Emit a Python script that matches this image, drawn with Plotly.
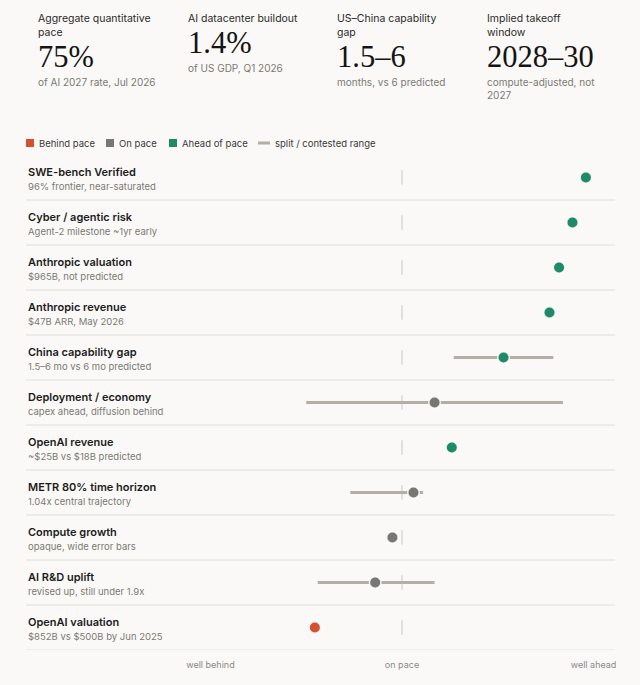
import plotly.graph_objects as go

# --- data ---
metrics = ["SWE-bench Verified", "Cyber / agentic risk", "Anthropic valuation",
           "Anthropic revenue", "China capability gap", "Deployment / economy",
           "OpenAI revenue", "METR 80% time horizon", "Compute growth",
           "AI R&D uplift", "OpenAI valuation"]
notes = ["96% frontier, near-saturated", "Agent-2 milestone ~1yr early",
         "$965B, not predicted", "$47B ARR, May 2026", "1.5–6 mo vs 6 mo predicted",
         "capex ahead, diffusion behind", "~$25B vs $18B predicted",
         "1.04x central trajectory", "opaque, wide error bars",
         "revised up, still under 1.9x", "$852B vs $500B by Jun 2025"]
pace = [0.96, 0.89, 0.82, 0.77, 0.53, 0.17, 0.26, 0.06, -0.05, -0.14, -0.455]
range_lo = [None, None, None, None, 0.27, -0.50, None, -0.27, None, -0.44, None]
range_hi = [None, None, None, None, 0.79, 0.84, None, 0.11, None, 0.17, None]
status = ["ahead", "ahead", "ahead", "ahead", "ahead", "on",
          "ahead", "on", "on", "on", "behind"]

axis_vals = [-1, 0, 1]
axis_text = ["well behind", "on pace", "well ahead"]

stat_titles = ["Aggregate quantitative<br>pace", "AI datacenter buildout",
               "US–China capability<br>gap", "Implied takeoff<br>window"]
stat_values = ["75%", "1.4%", "1.5–6", "2028–30"]
stat_notes = ["of AI 2027 rate, Jul 2026", "of US GDP, Q1 2026",
              "months, vs 6 predicted", "compute-adjusted, not<br>2027"]

colors = {"behind": "#d4502e", "on": "#797773", "ahead": "#1f8a68"}
legend_items = [("behind", "Behind pace"), ("on", "On pace"), ("ahead", "Ahead of pace")]

SANS = "Inter, 'Liberation Sans', sans-serif"
SERIF = "'Liberation Serif', 'DejaVu Serif', serif"
BG = "#faf9f7"

# plot area in pixels: x 26..615, y 155..650
def px_x(p):
    return (p - 26) / 589

def px_y(p):
    return (650 - p) / 495

n = len(metrics)
rows = list(range(n))

fig = go.Figure()

# centre tick in every row
cx, cy = [], []
for i in rows:
    cx += [0, 0, None]
    cy += [i - 0.16, i + 0.16, None]
fig.add_trace(go.Scatter(x=cx, y=cy, mode="lines", line=dict(color="#c9c7c2", width=1),
                         hoverinfo="skip", showlegend=False))

# contested ranges
lx, ly = [], []
for i in rows:
    if range_lo[i] is not None:
        lx += [range_lo[i], range_hi[i], None]
        ly += [i, i, None]
fig.add_trace(go.Scatter(x=lx, y=ly, mode="lines", line=dict(color="#b3afa7", width=3),
                         hoverinfo="skip", showlegend=False))

# dots
fig.add_trace(go.Scatter(
    x=pace, y=rows, mode="markers",
    marker=dict(size=11.5, color=[colors[s] for s in status],
                line=dict(color="rgba(255,255,255,0.85)", width=1.5)),
    text=metrics, hovertemplate="%{text}: %{x}<extra></extra>", showlegend=False))

shapes = []
# row separators
for i in rows:
    shapes.append(dict(type="line", xref="paper", yref="y", x0=0, x1=1, y0=i + 0.5, y1=i + 0.5,
                       line=dict(color="#e0ded9", width=1), layer="below"))

annotations = []
# row labels
for i in rows:
    annotations.append(dict(xref="paper", yref="y", x=0, y=i, yshift=6, xanchor="left",
                            yanchor="middle", showarrow=False, text=metrics[i],
                            font=dict(family=SANS, size=11, color="#1c1c1c", weight=600)))
    annotations.append(dict(xref="paper", yref="y", x=0, y=i, yshift=-9, xanchor="left",
                            yanchor="middle", showarrow=False, text=notes[i],
                            font=dict(family=SANS, size=9.5, color="#7a7975")))

# stat blocks on top
stat_x = [39, 189, 338, 488]
for k in range(4):
    two_line = "<br>" in stat_titles[k]
    val_y = 57 if two_line else 43
    annotations.append(dict(xref="paper", yref="paper", x=px_x(stat_x[k] - 2), y=px_y(11),
                            xanchor="left", yanchor="top", showarrow=False, align="left",
                            text=stat_titles[k], borderpad=0,
                            font=dict(family=SANS, size=10.5, color="#2a2a2a")))
    annotations.append(dict(xref="paper", yref="paper", x=px_x(stat_x[k] - 2), y=px_y(val_y),
                            xanchor="left", yanchor="middle", showarrow=False,
                            text=stat_values[k], borderpad=0,
                            font=dict(family=SERIF, size=30.5, color="#141414")))
    annotations.append(dict(xref="paper", yref="paper", x=px_x(stat_x[k] - 2), y=px_y(val_y + 18),
                            xanchor="left", yanchor="top", showarrow=False, align="left",
                            text=stat_notes[k], borderpad=0,
                            font=dict(family=SANS, size=10, color="#7a7975")))

# legend, drawn by hand
leg_y = 143
leg_x = [26, 106, 169]
for (key, label), x0 in zip(legend_items, leg_x):
    shapes.append(dict(type="rect", xref="paper", yref="paper",
                       x0=px_x(x0), x1=px_x(x0 + 8), y0=px_y(leg_y + 4), y1=px_y(leg_y - 4),
                       fillcolor=colors[key], line=dict(width=0)))
    annotations.append(dict(xref="paper", yref="paper", x=px_x(x0 + 11), y=px_y(leg_y),
                            xanchor="left", yanchor="middle", showarrow=False, text=label,
                            font=dict(family=SANS, size=9.5, color="#3a3a3a")))
shapes.append(dict(type="line", xref="paper", yref="paper", x0=px_x(258), x1=px_x(270),
                   y0=px_y(leg_y), y1=px_y(leg_y), line=dict(color="#b3afa7", width=3)))
annotations.append(dict(xref="paper", yref="paper", x=px_x(273), y=px_y(leg_y),
                        xanchor="left", yanchor="middle", showarrow=False,
                        text="split / contested range",
                        font=dict(family=SANS, size=9.5, color="#3a3a3a")))

fig.update_layout(
    width=640, height=685,
    margin=dict(l=26, r=25, t=155, b=35),
    paper_bgcolor=BG, plot_bgcolor=BG,
    xaxis=dict(range=[-1.963, 1.112], tickmode="array", tickvals=axis_vals, ticktext=axis_text,
               showgrid=False, zeroline=False, showline=False, ticks="",
               tickfont=dict(family=SANS, size=9, color="#8a8985"), ticklabelstandoff=8,
               fixedrange=True),
    yaxis=dict(range=[n - 0.5, -0.5], showticklabels=False, showgrid=False, zeroline=False,
               fixedrange=True),
    shapes=shapes,
    annotations=annotations,
    showlegend=False,
)

# drop the page's default body margin so the figure sits at 0,0
fig.write_html("out.html", config={"displayModeBar": False},
               post_script="document.body.style.margin='0';document.body.style.background='%s';" % BG)
